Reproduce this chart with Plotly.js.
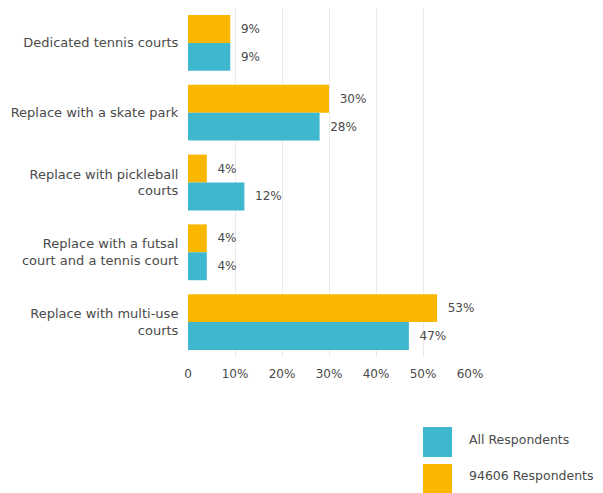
<!DOCTYPE html>
<html>
<head>
<meta charset="utf-8">
<script src="https://cdn.plot.ly/plotly-3.0.1.min.js"></script>
<style>html,body{margin:0;padding:0;background:#fff;}#chart{width:603px;height:493px;}</style>
</head>
<body>
<div id="chart"></div>
<script>
const categories = [
  "Dedicated tennis courts",
  "Replace with a skate park",
  "Replace with pickleball<br>courts",
  "Replace with a futsal<br>court and a tennis court",
  "Replace with multi-use<br>courts"
];
const respondents94606 = [9, 30, 4, 4, 53];
const allRespondents = [9, 28, 12, 4, 47];
const seriesNames = ["94606 Respondents", "All Respondents"];
const tickValues = [0, 10, 20, 30, 40, 50, 60];
const tickLabels = ["0", "10%", "20%", "30%", "40%", "50%", "60%"];

const ORANGE = "#F9B700";
const TEAL = "#3FB7CF";
const FONT = "'DejaVu Sans', sans-serif";
const TXT = "#4a4a4a";

function labels(arr) { return arr.map(v => "  " + v + "%"); }

const traces = [
  {
    type: "bar", orientation: "h", name: seriesNames[0],
    y: categories, x: respondents94606,
    marker: {color: ORANGE},
    text: labels(respondents94606), textposition: "outside",
    textfont: {family: FONT, size: 12, color: TXT},
    cliponaxis: false, hoverinfo: "skip"
  },
  {
    type: "bar", orientation: "h", name: seriesNames[1],
    y: categories, x: allRespondents,
    marker: {color: TEAL},
    text: labels(allRespondents), textposition: "outside",
    textfont: {family: FONT, size: 12, color: TXT},
    cliponaxis: false, hoverinfo: "skip"
  }
];

const layout = {
  width: 603, height: 493,
  margin: {l: 188, r: 133, t: 8, b: 136},
  paper_bgcolor: "#fff", plot_bgcolor: "#fff",
  barmode: "group", bargap: 0.2, bargroupgap: 0,
  showlegend: false,
  font: {family: FONT, size: 12, color: TXT},
  xaxis: {
    range: [0, 60], tickvals: tickValues, ticktext: tickLabels,
    showgrid: true, gridcolor: "#ebebeb", gridwidth: 1,
    zeroline: false, showline: false,
    ticks: "outside", ticklen: 6, tickcolor: "rgba(0,0,0,0)",
    tickfont: {family: FONT, size: 12, color: TXT}
  },
  yaxis: {
    autorange: "reversed", showgrid: false, zeroline: false, showline: false,
    ticks: "outside", ticklen: 6, tickcolor: "rgba(0,0,0,0)",
    tickfont: {family: FONT, size: 13, color: TXT}
  },
  shapes: [
    {type: "rect", xref: "paper", yref: "paper", x0: 235/282, x1: 264/282, y0: -70/349, y1: -100/349, fillcolor: TEAL, line: {width: 0}},
    {type: "rect", xref: "paper", yref: "paper", x0: 235/282, x1: 264/282, y0: -107/349, y1: -136/349, fillcolor: ORANGE, line: {width: 0}}
  ],
  annotations: [
    {xref: "paper", yref: "paper", x: 279/282, y: -82/349, xanchor: "left", yanchor: "middle", text: seriesNames[1], showarrow: false, font: {family: FONT, size: 12.5, color: TXT}},
    {xref: "paper", yref: "paper", x: 279/282, y: -118/349, xanchor: "left", yanchor: "middle", text: seriesNames[0], showarrow: false, font: {family: FONT, size: 12.5, color: TXT}}
  ]
};

Plotly.newPlot("chart", traces, layout, {displayModeBar: false, staticPlot: true});
</script>
</body>
</html>
